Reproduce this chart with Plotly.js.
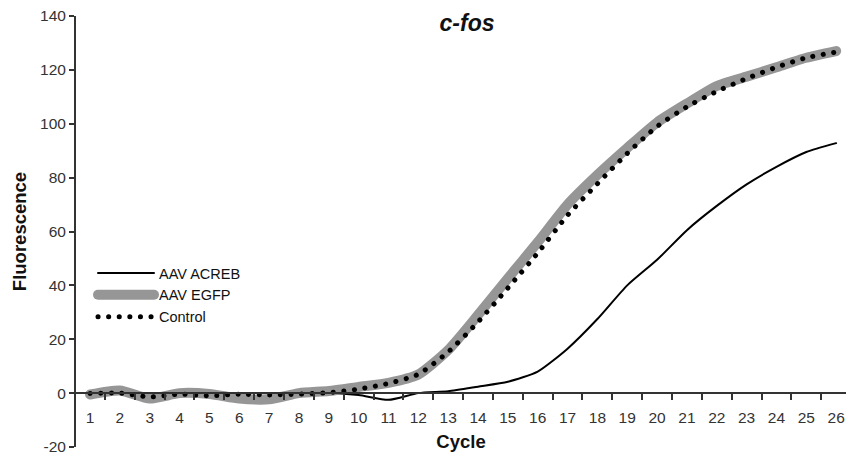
<!DOCTYPE html>
<html>
<head>
<meta charset="utf-8">
<script src="https://cdn.plot.ly/plotly-3.0.1.min.js"></script>
<style>
  html, body { margin: 0; padding: 0; background: #fff; }
  #chart { width: 846px; height: 458px; }
  .js-line { stroke-linecap: round; }
</style>
</head>
<body>
<div id="chart"></div>
<script>
const cycles = ["1","2","3","4","5","6","7","8","9","10","11","12","13","14","15","16","17","18","19","20","21","22","23","24","25","26"];
const acreb = [0, 0.3, -1, -0.5, -0.5, -1, -1, -0.5, 0, -0.7, -2.5, 0, 0.7, 2.4, 4.2, 8, 16.5, 27.5, 40, 49.5, 60.5, 69.5, 77.5, 84, 89.5, 92.8];
const egfp = [-0.5, 1, -2, 0, -0.3, -2, -2.3, 0, 0.8, 2.3, 3.8, 6.9, 16, 29, 42.6, 56, 70, 81, 91, 100.5, 107.5, 114, 117.5, 121, 124.5, 127];
const control = [-0.1, 0, -1.4, -0.4, -1, -0.4, -0.7, -0.4, 0.2, 1.5, 3.6, 7, 15.3, 26.4, 39, 52, 66, 77.7, 89, 99, 106.3, 112, 116.8, 121, 124.5, 126.6];
const seriesNames = ["AAV ACREB", "AAV EGFP", "Control"];
const yTickVals = [-20, 0, 20, 40, 60, 80, 100, 120, 140];
const yTickText = ["-20", "0", "20", "40", "60", "80", "100", "120", "140"];

const font = "'Liberation Sans', Arial, sans-serif";
const axisColor = "#333";

const traces = [
  {
    x: cycles, y: acreb, name: seriesNames[0], type: "scatter", mode: "lines",
    line: { color: "#000", width: 2, shape: "spline", smoothing: 0.6 }
  },
  {
    x: cycles, y: egfp, name: seriesNames[1], type: "scatter", mode: "lines",
    line: { color: "#969696", width: 10, shape: "spline", smoothing: 0.6 }
  },
  {
    x: cycles, y: control, name: seriesNames[2], type: "scatter", mode: "lines",
    line: { color: "#000", width: 5, dash: "0.1px,10.5px", shape: "spline", smoothing: 0.6 }
  }
];

const layout = {
  width: 846, height: 458,
  margin: { l: 76, r: 0, t: 16, b: 11 },
  paper_bgcolor: "#fff", plot_bgcolor: "#fff",
  font: { family: font, size: 15, color: axisColor },
  showlegend: true,
  title: {
    text: "<b><i>c-fos</i></b>",
    font: { family: font, size: 23, color: "#111" },
    x: 467 / 846, xref: "container", xanchor: "center",
    y: 1 - 23 / 458, yref: "container", yanchor: "middle"
  },
  xaxis: {
    type: "category",
    categoryorder: "array", categoryarray: cycles,
    range: [-0.47, 25.33],
    anchor: "free", position: 20 / 160,
    tickson: "boundaries",
    ticks: "outside", ticklen: 6, tickwidth: 2, tickcolor: axisColor,
    ticklabelstandoff: 10,
    showline: true, linecolor: axisColor, linewidth: 2,
    showgrid: false, zeroline: false,
    tickfont: { family: font, size: 15.5, color: axisColor },
    title: { text: "Cycle", font: { family: font, size: 18.5, weight: "bold", color: "#111" }, standoff: 9 }
  },
  yaxis: {
    range: [-20, 140],
    tickmode: "array", tickvals: yTickVals, ticktext: yTickText,
    ticks: "outside", ticklen: 5, tickwidth: 2, tickcolor: axisColor,
    showline: true, linecolor: axisColor, linewidth: 2,
    showgrid: false, zeroline: false,
    tickfont: { family: font, size: 15.5, color: axisColor },
    title: { text: "Fluorescence", font: { family: font, size: 18.5, weight: "bold", color: "#111" }, standoff: 9 }
  },
  legend: {
    x: (93 - 76) / 770, xanchor: "left",
    y: (447 - 257) / 431, yanchor: "top",
    bgcolor: "rgba(0,0,0,0)",
    font: { family: font, size: 14.5, color: "#111" },
    itemwidth: 56,
    tracegroupgap: 0
  }
};

Plotly.newPlot("chart", traces, layout, { staticPlot: true, displayModeBar: false });
</script>
</body>
</html>
